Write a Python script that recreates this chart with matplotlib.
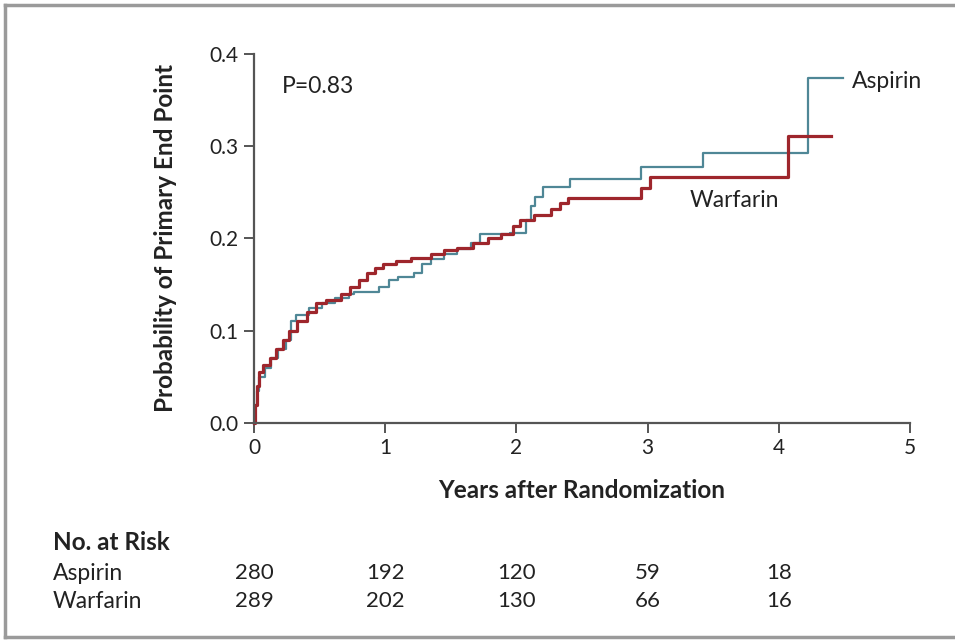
import matplotlib.pyplot as plt
from matplotlib.lines import Line2D

plt.rcParams['font.family'] = ['Lato', 'DejaVu Sans']

# Kaplan-Meier curves (years, cumulative probability)
aspirin_t = [0, 0.01, 0.02, 0.04, 0.08, 0.13, 0.18, 0.24, 0.28, 0.32, 0.42, 0.52, 0.62, 0.72,
             0.76, 0.95, 1.03, 1.10, 1.22, 1.28, 1.35, 1.45, 1.55, 1.65, 1.72, 1.95, 2.07,
             2.11, 2.14, 2.20, 2.41, 2.95, 3.42, 4.22, 4.49]
aspirin_p = [0, 0.02, 0.035, 0.05, 0.06, 0.07, 0.08, 0.09, 0.11, 0.117, 0.125, 0.13, 0.135, 0.14,
             0.142, 0.147, 0.155, 0.158, 0.162, 0.172, 0.178, 0.183, 0.188, 0.195, 0.205, 0.206, 0.22,
             0.235, 0.245, 0.256, 0.264, 0.277, 0.293, 0.374, 0.374]

warfarin_t = [0, 0.01, 0.02, 0.04, 0.07, 0.12, 0.17, 0.22, 0.27, 0.33, 0.40, 0.47, 0.55, 0.66,
              0.73, 0.80, 0.86, 0.92, 0.98, 1.08, 1.20, 1.35, 1.45, 1.55, 1.67, 1.78, 1.88,
              1.97, 2.03, 2.13, 2.26, 2.33, 2.39, 2.95, 3.02, 4.07, 4.40]
warfarin_p = [0, 0.02, 0.04, 0.055, 0.063, 0.07, 0.08, 0.09, 0.10, 0.11, 0.12, 0.13, 0.133, 0.14,
              0.147, 0.155, 0.162, 0.168, 0.172, 0.176, 0.179, 0.183, 0.187, 0.19, 0.195, 0.20, 0.205,
              0.213, 0.22, 0.225, 0.232, 0.238, 0.244, 0.255, 0.267, 0.311, 0.311]

# numbers at risk
risk_years = [0, 1, 2, 3, 4]
risk_aspirin = [280, 192, 120, 59, 18]
risk_warfarin = [289, 202, 130, 66, 16]

cor_asp = '#4f8796'
cor_war = '#9e262c'
cor_eixo = '#555555'
cor_txt = '#222222'

fig = plt.figure(figsize=(9.55, 6.4), dpi=100)
ax = fig.add_axes([0.266, 0.339, 0.687, 0.577])

ax.step(aspirin_t, aspirin_p, where='post', color=cor_asp, lw=1.6, clip_on=False)
ax.step(warfarin_t, warfarin_p, where='post', color=cor_war, lw=2.3, clip_on=False)

ax.set_xlim(0, 5)
ax.set_ylim(0, 0.4)
ax.set_xticks([0, 1, 2, 3, 4, 5])
ax.set_yticks([0.0, 0.1, 0.2, 0.3, 0.4])
ax.set_yticklabels(['0.0', '0.1', '0.2', '0.3', '0.4'])
for s in ['top', 'right']:
    ax.spines[s].set_visible(False)
for s in ['left', 'bottom']:
    ax.spines[s].set_color(cor_eixo)
    ax.spines[s].set_linewidth(1.6)
ax.tick_params(colors=cor_eixo, width=1.4, length=7, labelsize=15, labelcolor=cor_txt, pad=4)

ax.set_xlabel('Years after Randomization', fontsize=17.5, fontweight='bold', color=cor_txt)
ax.set_ylabel('Probability of Primary End Point', fontsize=17.5, fontweight='bold', color=cor_txt)
ax.xaxis.label.set_va('center')
ax.yaxis.label.set_va('center')
ax.xaxis.set_label_coords(0.5, -(488 - 421) / 369)
ax.yaxis.set_label_coords(-(254 - 165) / 656, 0.5)

# rótulos das curvas
ax.text(4.56, 0.370, 'Aspirin', fontsize=16.5, va='center', ha='left', color=cor_txt)
ax.text(3.32, 0.2415, 'Warfarin', fontsize=16.5, va='center', ha='left', color=cor_txt)
ax.text(0.21, 0.364, 'P=0.83', fontsize=16.5, va='center', ha='left', color=cor_txt)

# tabela de número em risco
fig.text(53 / 955, 1 - 543 / 640, 'No. at Risk', fontsize=17.5, fontweight='bold', va='center', color=cor_txt)
fig.text(53 / 955, 1 - 573 / 640, 'Aspirin', fontsize=16.5, va='center', color=cor_txt)
fig.text(53 / 955, 1 - 601 / 640, 'Warfarin', fontsize=16.5, va='center', color=cor_txt)
for yr, a, w in zip(risk_years, risk_aspirin, risk_warfarin):
    xf = ax.transData.transform((yr, 0))[0] / fig.bbox.width
    fig.text(xf, 1 - 573 / 640, str(a), fontsize=16, va='center', ha='center', color=cor_txt)
    fig.text(xf, 1 - 601 / 640, str(w), fontsize=16, va='center', ha='center', color=cor_txt)

# moldura
borda = '#9a9a9a'
fig.add_artist(Line2D([5 / 955, 1], [1 - 5 / 640, 1 - 5 / 640], color=borda, lw=2.5, transform=fig.transFigure))
fig.add_artist(Line2D([5 / 955, 5 / 955], [1 - 5 / 640, 1 - 637 / 640], color=borda, lw=2.5, transform=fig.transFigure))
fig.add_artist(Line2D([5 / 955, 1], [1 - 637 / 640, 1 - 637 / 640], color=borda, lw=2.5, transform=fig.transFigure))

plt.savefig('out.png', dpi=100)
